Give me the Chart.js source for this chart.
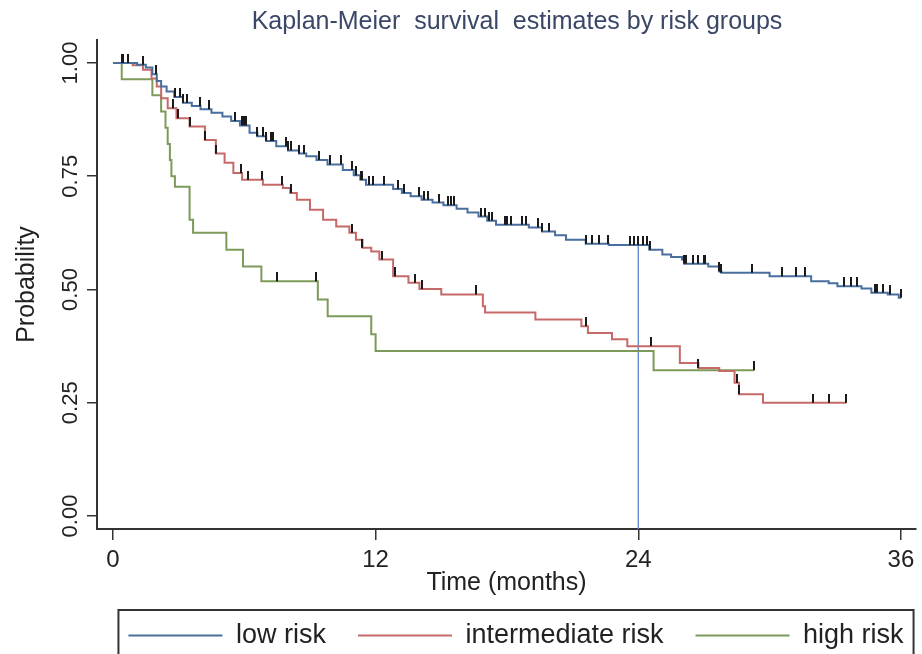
<!DOCTYPE html>
<html>
<head>
<meta charset="utf-8">
<script src="https://cdn.jsdelivr.net/npm/chart.js@4.4.1/dist/chart.umd.min.js"></script>
<style>
  html, body { margin: 0; padding: 0; background: #fff; }
  #wrap { width: 922px; height: 654px; }
</style>
</head>
<body>
<div id="wrap"><canvas id="km" width="922" height="654"></canvas></div>
<script>
// Kaplan-Meier curves: time (months) and survival after each step
const lowTimes = [0, 1.1, 1.5, 1.8, 2.0, 2.2, 2.45, 2.8, 3.2, 3.6, 4.0, 4.5, 5.0, 5.4, 5.8, 6.24, 6.6, 7.0, 7.46, 8.0,
  8.5, 8.83, 9.3, 9.8, 10.5, 11.0, 11.3, 11.56, 12.8, 13.2, 13.6, 14.1, 14.6, 15.1, 15.7, 16.2, 16.7, 17.1, 17.5, 19.0,
  19.6, 20.2, 20.7, 21.6, 22.65, 24.5, 25.1, 25.5, 26.0, 26.1, 27.2, 27.7, 27.8, 30.0, 31.9, 32.7, 33.1, 34.2, 34.65, 35.4,
  35.9, 36.0];
const lowSurv = [1.0, 0.996, 0.99, 0.975, 0.96, 0.948, 0.937, 0.925, 0.912, 0.905, 0.898, 0.89, 0.882, 0.872, 0.862, 0.846, 0.838, 0.828, 0.816, 0.807,
  0.80, 0.794, 0.786, 0.776, 0.764, 0.752, 0.742, 0.731, 0.722, 0.713, 0.706, 0.698, 0.692, 0.686, 0.678, 0.670, 0.661, 0.652, 0.643, 0.637,
  0.628, 0.620, 0.610, 0.601, 0.598, 0.588, 0.577, 0.572, 0.566, 0.557, 0.551, 0.540, 0.537, 0.529, 0.518, 0.514, 0.507, 0.502, 0.493, 0.489,
  0.482, 0.482];
const lowCensored = [0.4, 0.47, 0.7, 1.35, 1.96, 2.83, 3.05, 3.2, 3.36, 3.97, 4.4, 5.56, 5.9, 6.0, 6.1, 6.6, 6.85, 7.0, 7.23, 7.3,
  7.9, 8.0, 8.15, 8.5, 8.75, 9.43, 9.9, 10.4, 10.9, 11.1, 11.33, 11.4, 11.7, 11.86, 12.4, 13.0, 13.3, 14.0, 14.2, 14.4,
  14.9, 15.3, 15.45, 15.6, 16.8, 17.0, 17.2, 17.3, 17.9, 18.0, 18.2, 18.7, 18.85, 19.4, 19.6, 19.9, 21.6, 21.9, 22.2, 22.6,
  23.6, 23.8, 24.0, 24.2, 24.4, 24.55, 26.1, 26.2, 26.5, 26.75, 27.0, 27.05, 27.7, 27.8, 29.2, 30.55, 31.2, 31.6, 33.4, 33.7,
  34.0, 34.8, 34.9, 35.2, 35.5, 36.0];

const midTimes = [0, 0.9, 1.37, 1.76, 2.0, 2.2, 2.5, 2.9, 3.5, 4.2, 4.7, 5.1, 5.5, 5.9, 6.85, 7.76, 8.1, 8.4, 9.0, 9.6,
  10.2, 10.8, 11.1, 11.4, 11.8, 12.17, 12.8, 13.5, 14.0, 15.0, 16.9, 17.0, 19.3, 21.4, 21.7, 22.8, 23.5, 25.9, 26.75, 27.7,
  28.4, 28.6, 29.7, 33.5];
const midSurv = [1, 0.995, 0.985, 0.966, 0.948, 0.922, 0.90, 0.878, 0.86, 0.83, 0.80, 0.78, 0.757, 0.742, 0.731, 0.724, 0.713, 0.698, 0.676, 0.654,
  0.639, 0.625, 0.610, 0.592, 0.584, 0.566, 0.529, 0.515, 0.501, 0.489, 0.463, 0.449, 0.434, 0.419, 0.404, 0.39, 0.375, 0.338, 0.327, 0.320,
  0.294, 0.269, 0.25, 0.25];
const midCensored = [2.75, 2.98, 3.5, 4.2, 4.7, 5.85, 6.17, 6.8, 7.7, 8.15, 10.9, 11.4, 12.3, 12.9, 13.8, 14.1, 16.6, 21.6, 24.6, 26.75,
  28.5, 28.6, 32.0, 32.7, 33.5];

const highTimes = [0, 0.4, 1.8, 2.2, 2.4, 2.5, 2.6, 2.67, 2.83, 3.5, 3.66, 5.18, 5.94, 6.78, 9.36, 9.81, 11.8, 12.0, 24.7, 29.3];
const highSurv = [1, 0.964, 0.929, 0.893, 0.857, 0.821, 0.786, 0.75, 0.727, 0.654, 0.625, 0.588, 0.551, 0.518, 0.478, 0.441, 0.401, 0.364, 0.322, 0.322];
const highCensored = [7.5, 9.28, 29.3];

const groupNames = ["low risk", "intermediate risk", "high risk"];
const xTicks = [0, 12, 24, 36];
const yTicks = [0, 0.25, 0.5, 0.75, 1];
const refTime = 24;

const X_MIN = -0.73, X_MAX = 36.69, Y_MIN = -0.0286, Y_MAX = 1.0507;
const FONT = "'Liberation Sans', Arial, sans-serif";

function steps(times, surv) {
  return times.map((t, i) => ({ x: t, y: surv[i] }));
}
function survAt(times, surv, t) {
  let s = surv[0];
  for (let i = 0; i < times.length; i++) if (times[i] <= t) s = surv[i];
  return s;
}
function marks(cens, times, surv) {
  return cens.map(t => ({ x: t, y: survAt(times, surv, t) }));
}

// little vertical tick sitting on top of the curve, used as point style for censored cases
const tick = document.createElement("canvas");
tick.width = 2; tick.height = 18;
const tc = tick.getContext("2d");
tc.fillStyle = "#1a1a1a";
tc.fillRect(0, 0, 2, 9);

const colLow = "#4a6e9e", colMid = "#c56a68", colHigh = "#7d9a5a";

function curve(label, data, color) {
  return { label, data, borderColor: color, backgroundColor: color, borderWidth: 2,
    stepped: "before", pointRadius: 0, fill: false, order: 2 };
}
function censor(data) {
  return { label: "", data, showLine: false, pointStyle: tick, pointRadius: 5,
    pointHoverRadius: 5, borderColor: "#1a1a1a", order: 0 };
}

const legendBox = {
  id: "legendBox",
  afterLayout(chart) {
    // title and legend sit a little right of the canvas middle in the original
    chart.titleBlock.left = 116;
    chart.legend.left = 82;
    chart.legend.right = 950;
    chart.legend.top += 5;
    chart.legend.bottom += 5;
  },
  afterDraw(chart) {
    const hb = chart.legend.legendHitBoxes;
    if (!hb || !hb.length) return;
    const ctx = chart.ctx;
    const first = hb[0], last = hb[hb.length - 1];
    ctx.save();
    ctx.strokeStyle = "#333";
    ctx.lineWidth = 2;
    ctx.strokeRect(first.left - 10, first.top - 12, last.left + last.width - first.left + 20, 60);
    ctx.restore();
  }
};

new Chart(document.getElementById("km"), {
  type: "line",
  data: {
    datasets: [
      curve(groupNames[0], steps(lowTimes, lowSurv), colLow),
      curve(groupNames[1], steps(midTimes, midSurv), colMid),
      curve(groupNames[2], steps(highTimes, highSurv), colHigh),
      { label: "", data: [{ x: refTime, y: survAt(lowTimes, lowSurv, refTime) }, { x: refTime, y: Y_MIN }],
        borderColor: "#5b84d2", borderWidth: 1.3, pointRadius: 0, order: 3 },
      censor(marks(lowCensored, lowTimes, lowSurv)),
      censor(marks(midCensored, midTimes, midSurv)),
      censor(marks(highCensored, highTimes, highSurv))
    ]
  },
  options: {
    responsive: false,
    animation: false,
    events: [],
    layout: { padding: { left: 4, right: 4, top: 0, bottom: 0 } },
    plugins: {
      tooltip: { enabled: false },
      title: {
        display: true,
        text: "Kaplan-Meier  survival  estimates by risk groups",
        color: "#3a4766",
        font: { family: FONT, size: 25, weight: "normal" },
        padding: { top: 7, bottom: 3 }
      },
      legend: {
        position: "bottom",
        labels: {
          filter: item => item.text !== "",
          usePointStyle: true,
          pointStyle: "line",
          pointStyleWidth: 94,
          color: "#222",
          font: { family: FONT, size: 27 },
          padding: 32
        }
      }
    },
    scales: {
      x: {
        type: "linear",
        min: X_MIN, max: X_MAX,
        afterBuildTicks: s => { s.ticks = xTicks.map(v => ({ value: v })); },
        afterFit: s => { s.height = 56; },
        grid: { drawOnChartArea: false, tickLength: 11, color: "#333", lineWidth: 1.5 },
        border: { color: "#333", width: 2 },
        ticks: { color: "#222", font: { family: FONT, size: 24 }, padding: 6, maxRotation: 0 },
        title: { display: true, text: "Time (months)", color: "#222",
          font: { family: FONT, size: 25 }, padding: { top: 0, bottom: -13 } }
      },
      y: {
        min: Y_MIN, max: Y_MAX,
        afterBuildTicks: s => { s.ticks = yTicks.map(v => ({ value: v })); },
        afterFit: s => { s.width = 93; },
        grid: { drawOnChartArea: false, tickLength: 10, color: "#333", lineWidth: 1.5 },
        border: { color: "#333", width: 2 },
        ticks: { color: "#222", font: { family: FONT, size: 22 }, minRotation: 90, maxRotation: 90,
          crossAlign: "center", padding: -5, callback: v => v.toFixed(2) },
        title: { display: true, text: "Probability", color: "#222",
          font: { family: FONT, size: 25 }, padding: { top: 8, bottom: 0 } }
      }
    }
  },
  plugins: [legendBox]
});
</script>
</body>
</html>
